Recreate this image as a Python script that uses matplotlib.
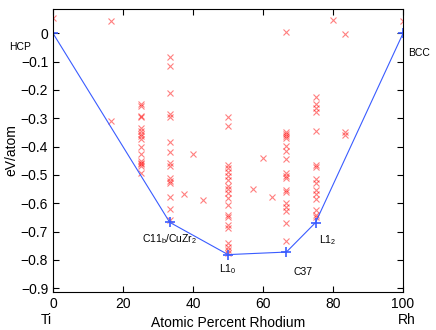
import numpy as np
import matplotlib
matplotlib.use("Agg")
import matplotlib.pyplot as plt

plt.rcParams['font.family'] = ['Liberation Sans', 'DejaVu Sans']

# computed structures, grouped by composition (atomic % Rh) -> formation energies (eV/atom)
e_0 = [0.054]
e_16 = [0.044, -0.308]
e_25 = [-0.249, -0.256, -0.292, -0.296, -0.335, -0.345, -0.355, -0.362, -0.374, -0.40,
        -0.426, -0.449, -0.458, -0.462, -0.47, -0.494]
e_33 = [-0.084, -0.117, -0.211, -0.284, -0.296, -0.382, -0.418, -0.459, -0.468, -0.512,
        -0.52, -0.53, -0.577, -0.621, -0.66]
e_37 = [-0.566]
e_40 = [-0.425]
e_43 = [-0.587]
e_50 = [-0.296, -0.327, -0.465, -0.476, -0.488, -0.503, -0.518, -0.539, -0.551, -0.562,
        -0.582, -0.606, -0.641, -0.65, -0.677, -0.688, -0.741, -0.753, -0.765, -0.775]
e_57 = [-0.549]
e_60 = [-0.439]
e_62 = [-0.579]
e_67 = [0.003, -0.347, -0.355, -0.362, -0.371, -0.398, -0.414, -0.445, -0.492, -0.504,
        -0.512, -0.553, -0.559, -0.598, -0.614, -0.626, -0.671, -0.732]
e_75 = [-0.223, -0.249, -0.264, -0.276, -0.343, -0.465, -0.473, -0.515, -0.529, -0.553,
        -0.567, -0.586, -0.624, -0.641, -0.65]
e_80 = [0.048]
e_83 = [-0.003, -0.35, -0.359]
e_100 = [0.042]

comps = [0, 16.7, 25, 33.3, 37.5, 40, 42.9, 50, 57.1, 60, 62.5, 66.7, 75, 80, 83.3, 100]
energies = [e_0, e_16, e_25, e_33, e_37, e_40, e_43, e_50, e_57, e_60, e_62, e_67, e_75,
            e_80, e_83, e_100]

# convex hull
hull_x = [0, 33.33, 50, 66.67, 75, 100]
hull_e = [0, -0.667, -0.781, -0.772, -0.668, 0]

x_pts = np.concatenate([[c] * len(e) for c, e in zip(comps, energies)])
e_pts = np.concatenate(energies)

fig = plt.figure(figsize=(4.36, 3.30), dpi=100)
ax = fig.add_axes([0.1216, 0.116, 0.8028, 0.856])

ax.plot(x_pts, e_pts, 'x', color='red', alpha=0.5, markersize=4.5, markeredgewidth=0.8)
ax.plot(hull_x, hull_e, '-', color='#3a5cff', linewidth=0.8)
ax.plot(hull_x, hull_e, '+', color='#3a5cff', markersize=7, markeredgewidth=1.2)

ax.set_xlim(0, 100)
ax.set_ylim(-0.912, 0.085)
ax.set_xticks([0, 20, 40, 60, 80, 100])
ax.set_yticks(np.round(np.arange(0, -0.95, -0.1), 1))
ax.set_yticklabels(['0'] + ['\u22120.%d' % i for i in range(1, 10)])
ax.tick_params(direction='in', top=True, right=True, labelsize=10, length=4, width=0.8)
for s in ax.spines.values():
    s.set_linewidth(0.8)

ax.set_ylabel('eV/atom', fontsize=10, labelpad=2)
ax.set_xlabel('Atomic Percent Rhodium', fontsize=10, labelpad=4)

# phase labels
ax.text(-9.5, -0.047, 'HCP', fontsize=7.5, ha='center', va='center', clip_on=False)
ax.text(101.5, -0.07, 'BCC', fontsize=7.5, ha='left', va='center', clip_on=False)
ax.text(33.3, -0.727, r'C11$_\mathregular{b}$/CuZr$_\mathregular{2}$', fontsize=7.5, ha='center', va='center')
ax.text(50, -0.832, r'L1$_\mathregular{0}$', fontsize=7.5, ha='center', va='center')
ax.text(71.3, -0.842, 'C37', fontsize=7.5, ha='center', va='center')
ax.text(78.5, -0.73, r'L1$_\mathregular{2}$', fontsize=7.5, ha='center', va='center')

# element labels at the ends of the axis
ax.text(-2, -1.012, 'Ti', fontsize=10, ha='center', va='center', clip_on=False)
ax.text(101, -1.012, 'Rh', fontsize=10, ha='center', va='center', clip_on=False)

fig.savefig('out.png', dpi=100)
